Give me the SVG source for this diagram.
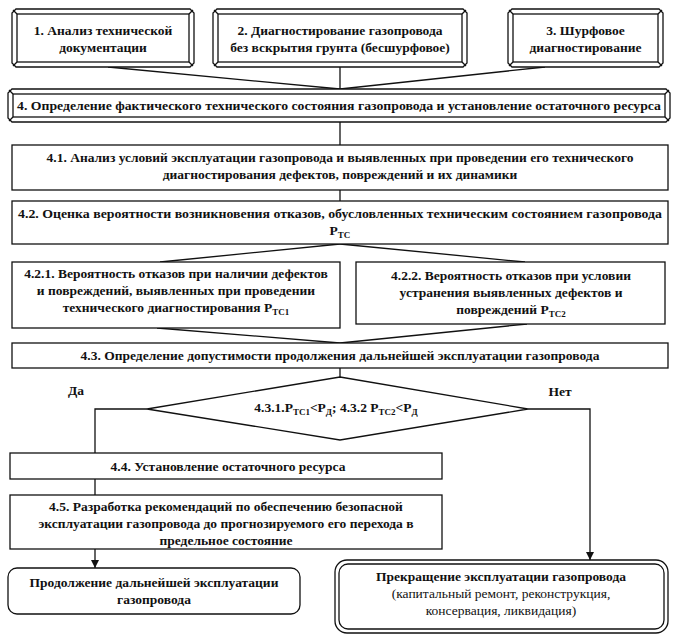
<svg xmlns="http://www.w3.org/2000/svg" width="677" height="642" viewBox="0 0 677 642" font-family="'Liberation Serif', 'DejaVu Serif', serif">
<style>
text{font-family:'Liberation Serif','DejaVu Serif',serif}
.t{font-weight:bold;font-size:13.5px;fill:#111;text-anchor:middle}
.n{font-weight:normal}
.s{font-size:9px}
.box{fill:#fff;stroke:#111;stroke-width:1.3}
.ln{fill:none;stroke:#111;stroke-width:1.3}
</style>
<defs>
<marker id="arr" viewBox="0 0 10 10" refX="10" refY="5" markerWidth="8" markerHeight="9" markerUnits="userSpaceOnUse" orient="auto">
<path d="M0,0 L10,5 L0,10 z" fill="#111"/>
</marker>
</defs>
<rect width="677" height="642" fill="#fff"/>

<g id="connectors">
<line class="ln" x1="108" y1="67" x2="340" y2="89"/>
<line class="ln" x1="340" y1="67" x2="340" y2="89"/>
<line class="ln" x1="545" y1="67" x2="340" y2="89"/>
<line class="ln" x1="340" y1="122" x2="340" y2="145"/>
<line class="ln" x1="340" y1="190" x2="340" y2="201"/>
<line class="ln" x1="340" y1="244" x2="160" y2="262"/>
<line class="ln" x1="340" y1="244" x2="525" y2="262"/>
<line class="ln" x1="157" y1="328" x2="340" y2="343"/>
<line class="ln" x1="527" y1="324" x2="340" y2="343"/>
<line class="ln" x1="340" y1="368" x2="340" y2="377"/>
<polyline class="ln" points="147,409 95,409 95,453"/>
<line class="ln" x1="95" y1="479" x2="95" y2="495"/>
<line class="ln" x1="95" y1="549" x2="95" y2="568" marker-end="url(#arr)"/>
<polyline class="ln" points="528,409 590,409 590,560" marker-end="url(#arr)"/>
</g>

<g id="n1">
<polygon class="box" points="16,9 190,9 194,13 194,63 190,67 16,67 12,63 12,13"/>
<rect class="box" x="17" y="14" width="172" height="48"/>
<path class="ln" d="M13,10 L17,14 M193,10 L189,14 M193,66 L189,62 M13,66 L17,62"/>
<text class="t" x="103" y="35">1. Анализ технической</text>
<text class="t" x="103" y="52">документации</text>
</g>

<g id="n2">
<polygon class="box" points="217,9 463,9 467,13 467,63 463,67 217,67 213,63 213,13"/>
<rect class="box" x="218" y="14" width="244" height="48"/>
<path class="ln" d="M214,10 L218,14 M466,10 L462,14 M466,66 L462,62 M214,66 L218,62"/>
<text class="t" x="340" y="35">2. Диагностирование газопровода</text>
<text class="t" x="340" y="52">без вскрытия грунта (бесшурфовое)</text>
</g>

<g id="n3">
<polygon class="box" points="512,9 659,9 663,13 663,63 659,67 512,67 508,63 508,13"/>
<rect class="box" x="513" y="14" width="145" height="48"/>
<path class="ln" d="M509,10 L513,14 M662,10 L658,14 M662,66 L658,62 M509,66 L513,62"/>
<text class="t" x="585.5" y="35">3. Шурфовое</text>
<text class="t" x="585.5" y="52">диагностирование</text>
</g>

<g id="n4">
<polygon class="box" points="12,89 666,89 670,93 670,118 666,122 12,122 8,118 8,93"/>
<rect class="box" x="13" y="94" width="652" height="23"/>
<path class="ln" d="M9,90 L13,94 M669,90 L665,94 M669,121 L665,117 M9,121 L13,117"/>
<text class="t" x="339" y="110" textLength="644" lengthAdjust="spacingAndGlyphs">4. Определение фактического технического состояния газопровода и установление остаточного ресурса</text>
</g>

<g id="n41">
<rect class="box" x="12" y="145" width="656" height="45"/>
<text class="t" x="340" y="162">4.1. Анализ условий эксплуатации газопровода и выявленных при проведении его технического</text>
<text class="t" x="340" y="179">диагностирования дефектов, повреждений и их динамики</text>
</g>

<g id="n42">
<rect class="box" x="12" y="201" width="656" height="43"/>
<text class="t" x="340" y="218" textLength="644" lengthAdjust="spacingAndGlyphs">4.2. Оценка вероятности возникновения отказов, обусловленных техническим состоянием газопровода</text>
<text class="t" x="340" y="235">P<tspan class="s" dy="3">ТС</tspan></text>
</g>

<g id="n421">
<rect class="box" x="12" y="262" width="328" height="66"/>
<text class="t" x="176" y="278">4.2.1. Вероятность отказов при наличии дефектов</text>
<text class="t" x="176" y="295">и повреждений, выявленных при проведении</text>
<text class="t" x="176" y="312">технического диагностирования P<tspan class="s" dy="3">ТС1</tspan></text>
</g>

<g id="n422">
<rect class="box" x="356" y="262" width="309" height="62"/>
<text class="t" x="511" y="280">4.2.2. Вероятность отказов при условии</text>
<text class="t" x="511" y="297">устранения выявленных дефектов и</text>
<text class="t" x="511" y="314">повреждений P<tspan class="s" dy="3">ТС2</tspan></text>
</g>

<g id="n43">
<rect class="box" x="12" y="343" width="656" height="25"/>
<text class="t" x="340" y="360">4.3. Определение допустимости продолжения дальнейшей эксплуатации газопровода</text>
</g>

<g id="d431">
<polygon class="box" points="340,377 528,409 340,440 147,409"/>
<text class="t" x="336" y="412">4.3.1.P<tspan class="s" dy="3">ТС1</tspan><tspan dy="-3">&lt;P</tspan><tspan class="s" dy="3">Д</tspan><tspan dy="-3">; 4.3.2 P</tspan><tspan class="s" dy="3">ТС2</tspan><tspan dy="-3">&lt;P</tspan><tspan class="s" dy="3">Д</tspan></text>
</g>

<g id="labels">
<text class="t" x="76" y="395">Да</text>
<text class="t" x="560" y="396">Нет</text>
</g>

<g id="n44">
<rect class="box" x="10" y="453" width="432" height="26"/>
<text class="t" x="228" y="471">4.4. Установление остаточного ресурса</text>
</g>

<g id="n45">
<rect class="box" x="10" y="495" width="432" height="54"/>
<text class="t" x="226" y="511">4.5. Разработка рекомендаций по обеспечению безопасной</text>
<text class="t" x="226" y="528">эксплуатации газопровода до прогнозируемого его перехода в</text>
<text class="t" x="226" y="545">предельное состояние</text>
</g>

<g id="end_yes">
<rect class="box" x="8" y="568" width="292" height="46" rx="9"/>
<text class="t" x="154" y="587">Продолжение дальнейшей эксплуатации</text>
<text class="t" x="154" y="604">газопровода</text>
</g>

<g id="end_no">
<rect class="box" x="335" y="560" width="333" height="73" rx="12"/>
<rect class="box" x="339" y="564" width="325" height="65" rx="9"/>
<text class="t" x="501" y="581">Прекращение эксплуатации газопровода</text>
<text class="t n" x="501" y="598">(капитальный ремонт, реконструкция,</text>
<text class="t n" x="501" y="615">консервация, ликвидация)</text>
</g>
</svg>
